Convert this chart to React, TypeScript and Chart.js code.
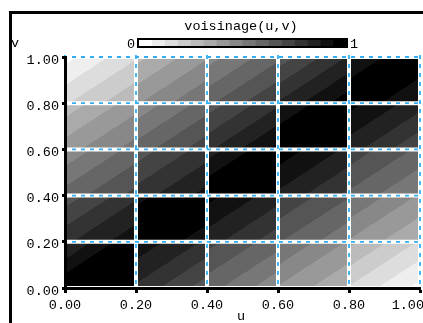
import React, { useEffect, useRef } from 'react';
import { Chart, registerables } from 'chart.js';

Chart.register(...registerables);

// ---- data ----
const uTicks = [0, 0.2, 0.4, 0.6, 0.8, 1.0];
const vTicks = [0, 0.2, 0.4, 0.6, 0.8, 1.0];
const chartTitle = 'voisinage(u,v)';
const xTitle = 'u';
const yTitle = 'v';
const colorbarLabels = ['0', '1'];
const colorLevels = 16;

// voisinage value per cell (rows from v=0 upward, columns from u=0 rightward)
// sampled at the cell's top-left corner, centre and bottom-right corner
const cellTopLeft = [
  [0.80, 0.92, 0.71, 0.57, 0.33],
  [0.65, 0.92, 0.96, 0.75, 0.57],
  [0.45, 0.65, 0.84, 0.98, 0.73],
  [0.27, 0.45, 0.65, 0.88, 0.96],
  [0.04, 0.29, 0.47, 0.65, 0.88],
];
const cellCenter = [
  [1.00, 0.80, 0.59, 0.43, 0.18],
  [0.80, 1.00, 0.84, 0.63, 0.43],
  [0.59, 0.78, 1.00, 0.86, 0.61],
  [0.41, 0.59, 0.80, 1.00, 0.84],
  [0.18, 0.43, 0.61, 0.82, 1.00],
];
const cellBottomRight = [
  [0.98, 0.65, 0.45, 0.31, 0.04],
  [0.92, 0.90, 0.71, 0.51, 0.31],
  [0.71, 0.90, 0.98, 0.73, 0.49],
  [0.53, 0.73, 0.96, 0.96, 0.69],
  [0.31, 0.57, 0.76, 0.98, 0.86],
];

const FONT = '"Liberation Mono", "Courier New", monospace';
const FONT_SIZE = 13.5;

function levelIndex(z: number) {
  return Math.max(0, Math.min(colorLevels - 1, Math.floor(z * colorLevels)));
}
function levelColor(k: number) {
  const g = Math.round(255 * (1 - k / (colorLevels - 1)));
  return `rgb(${g},${g},${g})`;
}

const heatmapPlugin = {
  id: 'heatmap',
  beforeDraw(chart: any) {
    const { ctx } = chart;
    const xs = chart.scales.x;
    const ys = chart.scales.y;
    ctx.save();
    // outer frame
    ctx.strokeStyle = '#000';
    ctx.lineWidth = 3;
    ctx.beginPath();
    ctx.moveTo(10.5, 330);
    ctx.lineTo(10.5, 12.5);
    ctx.lineTo(430, 12.5);
    ctx.stroke();

    // cells
    for (let j = 0; j < vTicks.length - 1; j++) {
      for (let i = 0; i < uTicks.length - 1; i++) {
        const x0 = xs.getPixelForValue(uTicks[i]);
        const x1 = xs.getPixelForValue(uTicks[i + 1]);
        const yTop = ys.getPixelForValue(vTicks[j + 1]);
        const yBot = ys.getPixelForValue(vTicks[j]);
        const w = x1 - x0;
        const h = yBot - yTop;
        const k = 2 / (1 / (w * w) + 1 / (h * h));
        const grad = ctx.createLinearGradient(x0, yTop, x0 + k / w, yTop + k / h);
        const tl = cellTopLeft[j][i];
        const c = cellCenter[j][i];
        const br = cellBottomRight[j][i];
        const val = (t: number) => (t < 0.5 ? tl + (c - tl) * (t / 0.5) : c + (br - c) * ((t - 0.5) / 0.5));
        let prev = levelIndex(val(0));
        grad.addColorStop(0, levelColor(prev));
        const N = 400;
        for (let s = 1; s <= N; s++) {
          const t = s / N;
          const lv = levelIndex(val(t));
          if (lv !== prev) {
            grad.addColorStop(t, levelColor(prev));
            grad.addColorStop(t, levelColor(lv));
            prev = lv;
          }
        }
        grad.addColorStop(1, levelColor(prev));
        ctx.fillStyle = grad;
        ctx.fillRect(Math.floor(x0), Math.floor(yTop), Math.ceil(w) + 1, Math.ceil(h) + 1);
      }
    }

    // grid lines: white base + blue dashes
    const left = xs.getPixelForValue(uTicks[0]);
    const right = xs.getPixelForValue(uTicks[uTicks.length - 1]);
    const top = ys.getPixelForValue(vTicks[vTicks.length - 1]);
    const bottom = ys.getPixelForValue(vTicks[0]);
    const lines: [number, number, number, number][] = [];
    uTicks.forEach((u) => {
      const px = xs.getPixelForValue(u);
      lines.push([px, top - 2, px, bottom + 2]);
    });
    vTicks.forEach((v) => {
      const py = ys.getPixelForValue(v);
      lines.push([left - 2, py, right + 2, py]);
    });
    ctx.lineWidth = 4;
    ctx.strokeStyle = '#ffffff';
    ctx.setLineDash([]);
    lines.forEach(([a, b, c2, d]) => {
      ctx.beginPath();
      ctx.moveTo(a, b);
      ctx.lineTo(c2, d);
      ctx.stroke();
    });
    ctx.lineWidth = 1.8;
    ctx.strokeStyle = '#33aef5';
    ctx.setLineDash([4, 5]);
    lines.forEach(([a, b, c2, d]) => {
      ctx.beginPath();
      ctx.moveTo(a, b);
      ctx.lineTo(c2, d);
      ctx.stroke();
    });
    ctx.setLineDash([]);

    // colour bar
    const cbX0 = 139, cbX1 = 346, cbY0 = 40, cbY1 = 46;
    const step = (cbX1 - cbX0) / colorLevels;
    for (let k = 0; k < colorLevels; k++) {
      ctx.fillStyle = levelColor(k);
      ctx.fillRect(cbX0 + k * step, cbY0, step + 0.5, cbY1 - cbY0);
    }
    ctx.strokeStyle = '#000';
    ctx.lineWidth = 2;
    ctx.strokeRect(cbX0 - 1, cbY0 - 1, cbX1 - cbX0 + 2, cbY1 - cbY0 + 2);

    // texts
    ctx.fillStyle = '#000';
    ctx.font = `${FONT_SIZE}px ${FONT}`;
    ctx.textBaseline = 'middle';
    ctx.textAlign = 'center';
    ctx.fillText(chartTitle, 241, 26);
    ctx.fillText(colorbarLabels[0], 131, 44);
    ctx.fillText(colorbarLabels[1], 354, 44);
    ctx.fillText(yTitle, 15, 43);
    ctx.fillText(xTitle, 241, 316);
    ctx.restore();
  },
};

const tickFont = { family: FONT, size: FONT_SIZE };

export default function App() {
  const ref = useRef<HTMLCanvasElement | null>(null);
  useEffect(() => {
    if (!ref.current) return;
    const chart = new Chart(ref.current, {
      type: 'scatter',
      data: { datasets: [] },
      options: {
        animation: false,
        responsive: false,
        devicePixelRatio: 1,
        events: [],
        layout: { padding: { left: 0, top: 57, right: 3, bottom: 0 } },
        plugins: { legend: { display: false }, tooltip: { enabled: false }, title: { display: false } },
        scales: {
          x: {
            type: 'linear',
            min: 0,
            max: 1,
            afterBuildTicks: (s: any) => {
              s.ticks = uTicks.map((v) => ({ value: v }));
            },
            afterFit: (s: any) => {
              s.height = 35;
              s.paddingLeft = 0;
              s.paddingRight = 0;
            },
            ticks: {
              font: tickFont,
              color: '#000',
              padding: 4,
              maxRotation: 0,
              autoSkip: false,
              // last label is pushed left so it stays inside the picture
              callback: (v: any, idx: number) =>
                Number(v).toFixed(2) + (idx === uTicks.length - 1 ? '\u00a0\u00a0\u00a0' : ''),
            },
            grid: { drawOnChartArea: false, drawTicks: true, tickLength: 5, tickWidth: 3, tickColor: '#000' },
            border: { display: true, color: '#000', width: 3 },
          },
          y: {
            type: 'linear',
            min: 0,
            max: 1,
            afterBuildTicks: (s: any) => {
              s.ticks = vTicks.map((v) => ({ value: v }));
            },
            afterFit: (s: any) => {
              s.width = 65;
              s.paddingTop = 0;
              s.paddingBottom = 0;
            },
            ticks: {
              font: tickFont,
              color: '#000',
              padding: 3,
              labelOffset: 3,
              autoSkip: false,
              callback: (v: any) => Number(v).toFixed(2),
            },
            grid: { drawOnChartArea: false, drawTicks: true, tickLength: 3, tickWidth: 3, tickColor: '#000' },
            border: { display: true, color: '#000', width: 3 },
          },
        },
      },
      plugins: [heatmapPlugin],
    } as any);
    return () => chart.destroy();
  }, []);
  return (
    <div style={{ position: 'fixed', left: 0, top: 0, width: 423, height: 323, background: '#fff' }}>
      <canvas ref={ref} width={423} height={323} style={{ display: 'block', width: 423, height: 323 }} />
    </div>
  );
}
